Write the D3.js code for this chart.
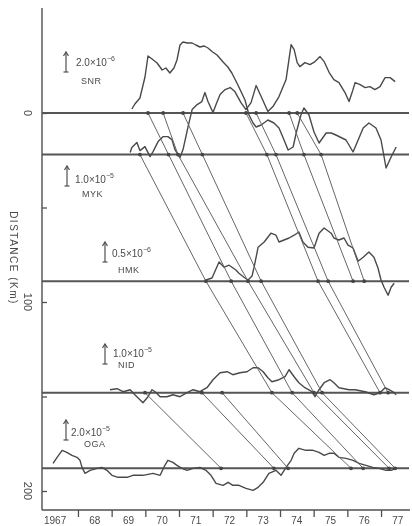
<!DOCTYPE html>
<html>
<head>
<meta charset="utf-8">
<script src="https://cdn.jsdelivr.net/npm/d3@7"></script>
<style>
body { margin: 0; background: #fff; }
svg { display: block; }
text { font-family: "Liberation Sans", "DejaVu Sans", sans-serif; fill: #4a4a4a; }
</style>
</head>
<body>
<svg width="412" height="526"></svg>
<script>
// stations along the profile
var stations = ["SNR", "MYK", "HMK", "NID", "OGA"]
var stationKm = [0, 22, 89, 148, 188]
var barValue = [2.0, 1.0, 0.5, 1.0, 2.0]
var barExp = [-6, -5, -6, -5, -5]

var distTicks = [0, 50, 100, 150, 200]
var distLabels = [0, 100, 200]
var yearTicks = [1968, 1969, 1970, 1971, 1972, 1973, 1974, 1975, 1976, 1977]
var yearLabels = ["1967", "68", "69", "70", "71", "72", "73", "74", "75", "76", "77"]

// records: [year, value in units of the station's scale bar multiplier]
var snrTrace = [[1969.60,0.4],[1969.69,0.9],[1969.84,1.5],[1969.99,3.6],[1970.08,5.7],[1970.20,5.4],[1970.35,5.0],
	[1970.50,4.3],[1970.61,4.5],[1970.73,4.0],[1970.85,4.5],[1970.94,5.3],[1971.03,6.8],[1971.12,7.1],[1971.25,7.0],
	[1971.39,7.0],[1971.50,6.8],[1971.62,6.6],[1971.75,6.7],[1971.86,6.5],[1972.00,6.1],[1972.13,5.8],[1972.31,5.1],
	[1972.45,4.6],[1972.57,4.0],[1972.75,2.8],[1972.96,1.3],[1973.08,-0.2],[1973.20,-1.0],[1973.29,-1.4],[1973.44,-1.2],
	[1973.64,-0.7],[1973.82,-1.0],[1973.97,-1.5],[1974.12,-2.7],[1974.24,-3.7],[1974.39,-3.4],[1974.48,-2.0],[1974.62,-0.2],
	[1974.71,0.5],[1974.86,-0.2],[1975.01,-1.9],[1975.16,-3.0],[1975.37,-2.0],[1975.52,-2.0],[1975.66,-2.2],[1975.96,-2.7],
	[1976.17,-3.9],[1976.32,-2.7],[1976.47,-1.5],[1976.64,-1.0],[1976.85,-1.5],[1977.00,-2.7],[1977.15,-5.5],[1977.30,-4.4],
	[1977.45,-3.4]]

var mykTrace = [[1969.55,0.1],[1969.60,0.35],[1969.75,0.6],[1969.84,0.2],[1969.99,0.4],[1970.14,-0.1],[1970.23,0.15],
	[1970.38,0.65],[1970.53,0.9],[1970.67,0.9],[1970.79,0.75],[1970.88,0.25],[1971.03,-0.15],[1971.12,0.25],[1971.27,1.4],
	[1971.39,2.25],[1971.54,2.5],[1971.68,2.65],[1971.77,3.1],[1971.86,2.65],[1972.01,2.1],[1972.10,2.5],[1972.22,3.0],
	[1972.37,3.25],[1972.52,3.35],[1972.66,3.15],[1972.84,2.6],[1972.99,2.25],[1973.14,2.6],[1973.29,3.45],[1973.44,2.9],
	[1973.64,2.15],[1973.79,2.4],[1973.97,2.9],[1974.18,3.75],[1974.33,5.5],[1974.42,5.25],[1974.51,4.6],[1974.59,4.4],
	[1974.74,4.6],[1974.89,4.5],[1975.04,4.65],[1975.19,4.9],[1975.31,4.65],[1975.46,4.1],[1975.60,3.75],[1975.75,3.6],
	[1975.93,3.1],[1976.05,2.65],[1976.14,3.1],[1976.23,3.6],[1976.38,3.5],[1976.53,3.35],[1976.67,3.4],[1976.82,3.25],
	[1976.97,3.4],[1977.12,3.85],[1977.27,3.85],[1977.42,3.65]]

var hmkTrace = [[1971.80,0.03],[1971.98,0.08],[1972.19,0.48],[1972.34,0.35],[1972.49,0.40],[1972.69,0.28],[1972.78,0.20],
	[1972.93,0.10],[1973.05,0.03],[1973.17,0.13],[1973.23,0.35],[1973.35,0.85],[1973.53,0.98],[1973.73,1.20],[1973.88,1.15],
	[1973.97,0.98],[1974.12,1.03],[1974.27,1.08],[1974.42,1.15],[1974.56,1.23],[1974.68,0.98],[1974.83,0.85],[1975.01,0.83],
	[1975.16,1.20],[1975.31,1.33],[1975.52,1.20],[1975.60,1.08],[1975.75,1.03],[1975.90,1.08],[1976.02,0.90],[1976.17,0.83],
	[1976.32,0.50],[1976.47,0.60],[1976.64,0.73],[1976.79,0.60],[1976.91,0.33],[1977.00,0.03],[1977.09,-0.15],[1977.21,-0.35],
	[1977.30,-0.15],[1977.39,-0.05]]

var nidTrace = [[1968.95,0.15],[1969.16,0.2],[1969.34,0.05],[1969.55,0.15],[1969.69,-0.1],[1969.84,-0.35],[1969.93,-0.5],
	[1970.08,-0.2],[1970.20,0.15],[1970.29,0.05],[1970.44,-0.2],[1970.64,-0.2],[1970.82,-0.1],[1971.03,-0.2],[1971.24,0],
	[1971.42,0.15],[1971.62,0.05],[1971.83,0.25],[1972.01,0.65],[1972.22,1.0],[1972.43,1.05],[1972.60,0.9],[1972.81,1.0],
	[1973.02,1.05],[1973.20,1.25],[1973.35,1.25],[1973.50,1.05],[1973.64,0.75],[1973.76,0.55],[1973.97,0.65],[1974.15,0.8],
	[1974.27,1.15],[1974.42,0.8],[1974.56,0.5],[1974.74,0.25],[1974.95,0.05],[1975.04,-0.2],[1975.16,0.15],[1975.31,0.5],
	[1975.49,0.65],[1975.60,0.5],[1975.75,0.25],[1976.05,0.15],[1976.23,0.15],[1976.53,0.05],[1976.79,-0.1],[1976.97,0],
	[1977.12,0.25],[1977.24,0.15],[1977.39,0],[1977.45,-0.1]]

var ogaTrace = [[1967.26,0.5],[1967.38,1.1],[1967.53,1.8],[1967.67,1.6],[1967.82,1.3],[1967.97,1.1],[1968.06,0.8],
	[1968.12,0.1],[1968.21,-0.5],[1968.36,-0.2],[1968.57,0],[1968.71,0.1],[1968.86,-0.2],[1969.01,-0.7],[1969.19,-0.9],
	[1969.46,-0.9],[1969.63,-0.7],[1969.93,-0.7],[1970.23,-0.5],[1970.44,-0.7],[1970.58,0.3],[1970.67,0.8],[1970.82,0.6],
	[1970.94,0.3],[1971.09,0],[1971.24,-0.2],[1971.42,0],[1971.62,0.1],[1971.80,-0.2],[1971.95,-0.7],[1972.10,-1.5],
	[1972.31,-1.7],[1972.46,-1.4],[1972.60,-1.7],[1972.78,-1.7],[1972.99,-2.0],[1973.20,-2.2],[1973.35,-1.9],[1973.50,-1.4],
	[1973.67,-0.5],[1973.88,-0.2],[1974.03,-0.7],[1974.18,0.1],[1974.33,0.8],[1974.42,1.5],[1974.56,2.0],[1974.77,1.8],
	[1974.98,1.8],[1975.16,1.6],[1975.31,1.3],[1975.46,1.5],[1975.60,1.5],[1975.75,1.1],[1975.96,1.0],[1976.17,0.8],
	[1976.35,0.5],[1976.55,0.3],[1976.76,0.1],[1976.94,0],[1977.15,-0.2],[1977.30,-0.2],[1977.45,0]]

// migration lines: [station, year] at each station reached
var migLines = [
	[["NID",1969.99],["OGA",1972.25]],
	[["NID",1971.68],["OGA",1973.82]],
	[["NID",1972.28],["OGA",1974.24]],
	[["MYK",1969.84],["HMK",1971.80],["NID",1973.76],["OGA",1976.11]],
	[["SNR",1970.08],["HMK",1972.55],["NID",1974.36],["OGA",1976.47]],
	[["SNR",1970.53],["MYK",1970.97],["HMK",1973.05],["NID",1975.01],["OGA",1977.24]],
	[["SNR",1971.12],["HMK",1973.44],["NID",1975.25],["OGA",1977.42]],
	[["SNR",1972.99],["MYK",1973.61],["HMK",1975.13],["NID",1976.97]],
	[["SNR",1973.29],["MYK",1973.88],["HMK",1975.43],["NID",1977.21]],
	[["SNR",1974.27],["MYK",1974.71],["HMK",1976.17]],
	[["SNR",1974.51],["MYK",1975.22],["HMK",1976.50]]
]

var traces = [snrTrace, mykTrace, hmkTrace, nidTrace, ogaTrace]

var svg = d3.select("svg")
var ink = "#505050"
var barPx = 20

var x = d3.scaleLinear().domain([1967, 1978]).range([44.3, 414.7])
var y = d3.scaleLinear().domain([0, 200]).range([113, 491])
var km = function(name){ return stationKm[stations.indexOf(name)] }

svg.append("defs").append("filter").attr("id", "soft")
	.append("feGaussianBlur").attr("stdDeviation", 0.45)

var plot = svg.append("g").attr("filter", "url(#soft)")

// axes
plot.append("line").attr("x1", 42).attr("x2", 42).attr("y1", 8).attr("y2", 510)
	.attr("stroke", ink).attr("stroke-width", 1.4)
plot.append("line").attr("x1", 42).attr("x2", 410).attr("y1", 510).attr("y2", 510)
	.attr("stroke", ink).attr("stroke-width", 1.4)

var yAxis = plot.append("g").attr("transform", "translate(42,0)")
	.call(d3.axisLeft(y).tickValues(distTicks).tickSize(-5).tickFormat(""))
yAxis.select(".domain").remove()
yAxis.selectAll("line").attr("stroke", ink).attr("stroke-width", 1.3)

var xAxis = plot.append("g").attr("transform", "translate(0,510)")
	.call(d3.axisBottom(x).tickValues(yearTicks).tickSize(7).tickFormat(""))
xAxis.select(".domain").remove()
xAxis.selectAll("line").attr("stroke", ink).attr("stroke-width", 1.3)

plot.selectAll("text.dist").data(distLabels).enter().append("text")
	.attr("class", "dist")
	.attr("transform", function(d){ return "translate(28," + y(d) + ") rotate(90)" })
	.attr("text-anchor", "middle").attr("dominant-baseline", "central")
	.style("font-size", "11px")
	.text(function(d){ return d })

plot.append("text")
	.attr("transform", "translate(13,258) rotate(90)")
	.attr("text-anchor", "middle").attr("dominant-baseline", "central")
	.style("font-size", "10px").style("letter-spacing", "1.5px")
	.text("DISTANCE (Km)")

plot.selectAll("text.year").data(yearLabels).enter().append("text")
	.attr("class", "year")
	.attr("x", function(d, i){ return x(1967 + i + 0.5) - (i == 0 ? 6 : 0) })
	.attr("y", 524)
	.attr("text-anchor", "middle")
	.style("font-size", "10px")
	.text(function(d){ return d })

// station baselines
plot.selectAll("line.base").data(stations).enter().append("line")
	.attr("class", "base")
	.attr("x1", 42).attr("x2", 409)
	.attr("y1", function(d, i){ return y(stationKm[i]) })
	.attr("y2", function(d, i){ return y(stationKm[i]) })
	.attr("stroke", "#555").attr("stroke-width", 2)

// records
traces.forEach(function(tr, i){
	var base = y(stationKm[i])
	var line = d3.line()
		.x(function(d){ return x(d[0]) })
		.y(function(d){ return base - d[1] / barValue[i] * barPx })
	plot.append("path").datum(tr)
		.attr("d", line)
		.attr("fill", "none").attr("stroke", "#4a4a4a").attr("stroke-width", 1.4)
		.attr("stroke-linejoin", "round")
})

// migration lines and crossing dots
var mline = d3.line().x(function(d){ return x(d[1]) }).y(function(d){ return y(km(d[0])) })
var dots = []
migLines.forEach(function(ml){
	plot.append("path").datum(ml).attr("d", mline)
		.attr("fill", "none").attr("stroke", "#666").attr("stroke-width", 1)
	ml.forEach(function(p){ dots.push([km(p[0]), p[1]]) })
	for (var j = 1; j < ml.length; j++) {
		var k0 = km(ml[j-1][0]), k1 = km(ml[j][0])
		stationKm.forEach(function(k){
			if (k > k0 && k < k1) {
				var t = (k - k0) / (k1 - k0)
				dots.push([k, ml[j-1][1] + t * (ml[j][1] - ml[j-1][1])])
			}
		})
	}
})
plot.selectAll("circle.dot").data(dots).enter().append("circle")
	.attr("class", "dot")
	.attr("cx", function(d){ return x(d[1]) })
	.attr("cy", function(d){ return y(d[0]) })
	.attr("r", 1.9).attr("fill", "#444")

// scale bars with labels (layout positions)
var barPos = [[66, 72, 76, 66, 81, 84], [67, 186, 75, 183, 82, 197], [105, 262, 112, 257, 118, 273],
	[105, 364, 113, 357, 118, 368], [66, 440, 71, 436, 84, 447]]

stations.forEach(function(s, i){
	var p = barPos[i]
	var g = plot.append("g")
	g.append("line").attr("x1", p[0]).attr("x2", p[0]).attr("y1", p[1]).attr("y2", p[1] - barPx)
		.attr("stroke", ink).attr("stroke-width", 1.2)
	g.append("line").attr("x1", p[0] - 2.5).attr("x2", p[0] + 2.5).attr("y1", p[1]).attr("y2", p[1])
		.attr("stroke", ink).attr("stroke-width", 1.2)
	g.append("path")
		.attr("d", "M" + (p[0] - 2.5) + "," + (p[1] - barPx + 4) + "L" + p[0] + "," + (p[1] - barPx) + "L" + (p[0] + 2.5) + "," + (p[1] - barPx + 4))
		.attr("fill", "none").attr("stroke", ink).attr("stroke-width", 1.2)
	var t = g.append("text").attr("x", p[2]).attr("y", p[3]).style("font-size", "10px")
	t.append("tspan").text(barValue[i].toFixed(1) + "×10")
	t.append("tspan").attr("dy", -5).style("font-size", "7px").text("−" + Math.abs(barExp[i]))
	g.append("text").attr("x", p[4]).attr("y", p[5]).style("font-size", "9px").style("letter-spacing", "0.5px").text(s)
})
</script>
</body>
</html>
